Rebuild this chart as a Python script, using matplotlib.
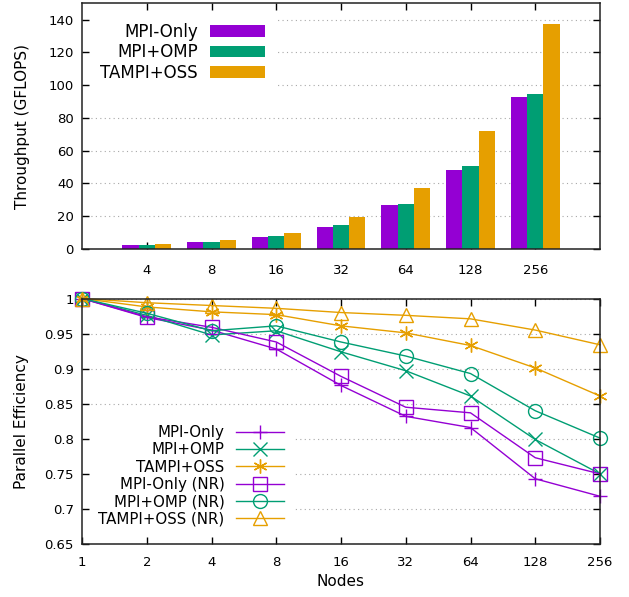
import numpy as np
import matplotlib
matplotlib.use("Agg")
import matplotlib.pyplot as plt

plt.rcParams['font.family'] = ['DejaVu Sans']

# datos - throughput
nodos_bar = ['4', '8', '16', '32', '64', '128', '256']
thr_mpi = [2.3, 4.3, 7.3, 13.7, 26.8, 48.2, 92.6]
thr_omp = [2.4, 4.3, 7.7, 14.6, 27.4, 50.6, 94.5]
thr_tampi = [3.0, 5.5, 9.8, 19.5, 37.5, 72.0, 137.2]

# datos - eficiencia
nodos = [1, 2, 4, 8, 16, 32, 64, 128, 256]
ef_mpi = [1.0, 0.973, 0.955, 0.928, 0.876, 0.832, 0.816, 0.743, 0.718]
ef_omp = [1.0, 0.976, 0.948, 0.954, 0.924, 0.897, 0.861, 0.799, 0.750]
ef_tampi = [1.0, 0.988, 0.981, 0.977, 0.961, 0.951, 0.933, 0.901, 0.861]
ef_mpi_nr = [1.0, 0.974, 0.959, 0.938, 0.889, 0.845, 0.837, 0.773, 0.750]
ef_omp_nr = [1.0, 0.979, 0.954, 0.961, 0.938, 0.918, 0.893, 0.840, 0.801]
ef_tampi_nr = [1.0, 0.994, 0.990, 0.986, 0.980, 0.976, 0.971, 0.955, 0.934]

c_mpi = '#9400d3'
c_omp = '#009e73'
c_tampi = '#e69f00'

fig = plt.figure(figsize=(6.29, 5.97), dpi=100)

# ---- grafico de barras ----
ax1 = fig.add_axes([82/629, 1-249/597, 518/629, 245.7/597])
x = np.arange(len(nodos_bar))
w = 0.25
ax1.bar(x - w, thr_mpi, w, color=c_mpi, label='MPI-Only', zorder=2)
ax1.bar(x, thr_omp, w, color=c_omp, label='MPI+OMP', zorder=2)
ax1.bar(x + w, thr_tampi, w, color=c_tampi, label='TAMPI+OSS', zorder=2)
ax1.set_xlim(-1, 7)
ax1.set_ylim(0, 150)
ax1.set_yticks(range(0, 141, 20))
ax1.set_xticks(x)
ax1.set_xticklabels(nodos_bar)
ax1.set_ylabel('Throughput (GFLOPS)', fontsize=11, labelpad=13)
ax1.yaxis.grid(True, linestyle=(0, (1, 3)), color='#a8a8a8', lw=0.8, zorder=0)
ax1.set_axisbelow(True)
leg1 = ax1.legend(loc='upper left', bbox_to_anchor=(0.0, 0.995), fontsize=12,
                  markerfirst=False, handlelength=3.3, handletextpad=0.75,
                  labelspacing=0.15, borderpad=0.6, frameon=True,
                  fancybox=False, framealpha=1, edgecolor='none')

# ---- grafico de eficiencia ----
ax2 = fig.add_axes([82/629, 1-544/597, 518/629, 245.5/597])
ax2.plot(nodos, ef_mpi, color=c_mpi, marker='+', label='MPI-Only')
ax2.plot(nodos, ef_omp, color=c_omp, marker='x', label='MPI+OMP')
ax2.plot(nodos, ef_tampi, color=c_tampi, marker=(6, 2, 0), label='TAMPI+OSS')
ax2.plot(nodos, ef_mpi_nr, color=c_mpi, marker='s', mfc='none', label='MPI-Only (NR)')
ax2.plot(nodos, ef_omp_nr, color=c_omp, marker='o', mfc='none', label='MPI+OMP (NR)')
ax2.plot(nodos, ef_tampi_nr, color=c_tampi, marker='^', mfc='none', label='TAMPI+OSS (NR)')
for l in ax2.lines:
    l.set_markersize(10)
    l.set_markeredgewidth(1.0)
    l.set_linewidth(1.0)
    l.set_clip_on(False)
ax2.set_xscale('log', base=2)
ax2.set_xlim(1, 256)
ax2.set_ylim(0.65, 1.0)
ax2.set_xticks(nodos)
ax2.set_xticklabels([str(n) for n in nodos])
ax2.minorticks_off()
ax2.set_yticks([0.65, 0.7, 0.75, 0.8, 0.85, 0.9, 0.95, 1.0])
ax2.set_yticklabels(['0.65', '0.7', '0.75', '0.8', '0.85', '0.9', '0.95', '1'])
ax2.set_xlabel('Nodes', fontsize=11, labelpad=3)
ax2.set_ylabel('Parallel Efficiency', fontsize=11, labelpad=11)
ax2.yaxis.grid(True, linestyle=(0, (1, 3)), color='#a8a8a8', lw=0.8, zorder=0)
ax2.set_axisbelow(True)
leg2 = ax2.legend(loc='lower left', bbox_to_anchor=(0.0, 0.005), fontsize=10.8,
                  markerfirst=False, handlelength=3.2, handletextpad=0.75,
                  labelspacing=0.15, borderpad=0.6, frameon=True,
                  fancybox=False, framealpha=1, edgecolor='none')

for ax in (ax1, ax2):
    ax.tick_params(direction='in', top=True, right=True, length=5, width=1,
                   labelsize=9.5)
    ax.tick_params(axis='y', pad=6)
    for s in ax.spines.values():
        s.set_linewidth(1.1)
        s.set_color('#222222')
ax1.tick_params(axis='x', pad=11)
ax2.tick_params(axis='x', pad=9)

fig.savefig('out.png', dpi=100)
